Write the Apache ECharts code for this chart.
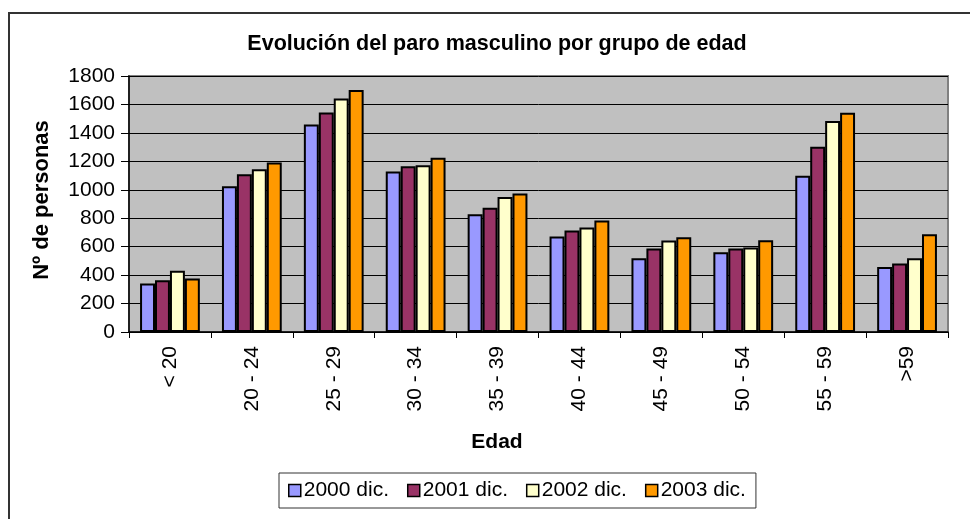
<!DOCTYPE html>
<html>
<head>
<meta charset="utf-8">
<script src="https://cdn.jsdelivr.net/npm/echarts@6/dist/echarts.min.js"></script>
<style>
html,body{margin:0;padding:0;background:#fff;}
#chart{width:970px;height:519px;}
</style>
</head>
<body>
<div id="chart"></div>
<script>
const categories = ['< 20', '20 - 24', '25 - 29', '30 - 34', '35 - 39', '40 - 44', '45 - 49', '50 - 54', '55 - 59', '>59'];
const seriesNames = ['2000 dic.', '2001 dic.', '2002 dic.', '2003 dic.'];
const values2000 = [341, 1025, 1459, 1129, 828, 671, 519, 561, 1098, 457];
const values2001 = [364, 1110, 1544, 1166, 873, 714, 587, 587, 1302, 481];
const values2002 = [430, 1145, 1642, 1173, 950, 735, 643, 594, 1483, 519];
const values2003 = [376, 1192, 1701, 1225, 974, 784, 666, 645, 1541, 688];
const yTicks = [0, 200, 400, 600, 800, 1000, 1200, 1400, 1600, 1800];
const colors = ['#9999FF', '#993366', '#FFFFCC', '#FF9900'];
const titleText = 'Evolución del paro masculino por grupo de edad';
const xName = 'Edad';
const yName = 'Nº de personas';

const FONT = '"Liberation Sans", Arial, sans-serif';
const allValues = [values2000, values2001, values2002, values2003];

const chart = echarts.init(document.getElementById('chart'));
chart.setOption({
  animation: false,
  backgroundColor: '#fff',
  textStyle: { fontFamily: FONT, color: '#000' },
  graphic: [{
    type: 'rect',
    shape: { x: 9, y: 13, width: 1000, height: 600 },
    style: { fill: 'none', stroke: '#333', lineWidth: 2 },
    silent: true, z: -1
  }, {
    type: 'text', x: 497, y: 44, silent: true,
    style: { text: titleText, fontFamily: FONT, fontSize: 21.5, fontWeight: 'bold', fill: '#000',
             align: 'center', verticalAlign: 'middle' }
  }, {
    type: 'text', x: 497, y: 442, silent: true,
    style: { text: xName, fontFamily: FONT, fontSize: 21, fontWeight: 'bold', fill: '#000',
             align: 'center', verticalAlign: 'middle' }
  }, {
    type: 'text', x: 42, y: 200, rotation: Math.PI / 2, silent: true,
    style: { text: yName, fontFamily: FONT, fontSize: 22, fontWeight: 'bold', fill: '#000',
             align: 'center', verticalAlign: 'middle' }
  }],
  legend: {
    left: 279, top: 473,
    itemWidth: 12, itemHeight: 12, itemGap: 18,
    padding: [7, 10, 7, 9],
    borderColor: '#333', borderWidth: 1,
    icon: 'rect',
    itemStyle: { borderColor: '#000', borderWidth: 1.5 },
    textStyle: { fontFamily: FONT, fontSize: 21, color: '#000', padding: [0, 0, 0, -2] },
    data: seriesNames
  },
  grid: {
    left: 129, right: 22, top: 76, bottom: 187,
    show: true, backgroundColor: '#C0C0C0', borderColor: '#808080', borderWidth: 2
  },
  xAxis: {
    type: 'category',
    data: categories,
    axisLine: { lineStyle: { color: '#000', width: 1.5 } },
    axisTick: { show: true, length: 6, lineStyle: { color: '#000' } },
    axisLabel: { rotate: 90, fontFamily: FONT, fontSize: 21, color: '#000', margin: 14 }
  },
  yAxis: {
    type: 'value',
    min: 0, max: 1800, interval: 200,
    axisLine: { show: true, lineStyle: { color: '#000', width: 1.5 } },
    axisTick: { show: true, length: 8, lineStyle: { color: '#000' } },
    axisLabel: {
      fontFamily: FONT, fontSize: 21, color: '#000', margin: 14,
      formatter: v => (yTicks.includes(v) ? String(v) : '')
    },
    splitLine: { lineStyle: { color: '#000', width: 1 } }
  },
  series: seriesNames.map((name, i) => ({
    name: name,
    type: 'bar',
    data: allValues[i],
    barGap: '0%',
    barCategoryGap: '27%',
    itemStyle: { color: colors[i], borderColor: '#000', borderWidth: 2 }
  }))
});
</script>
</body>
</html>
